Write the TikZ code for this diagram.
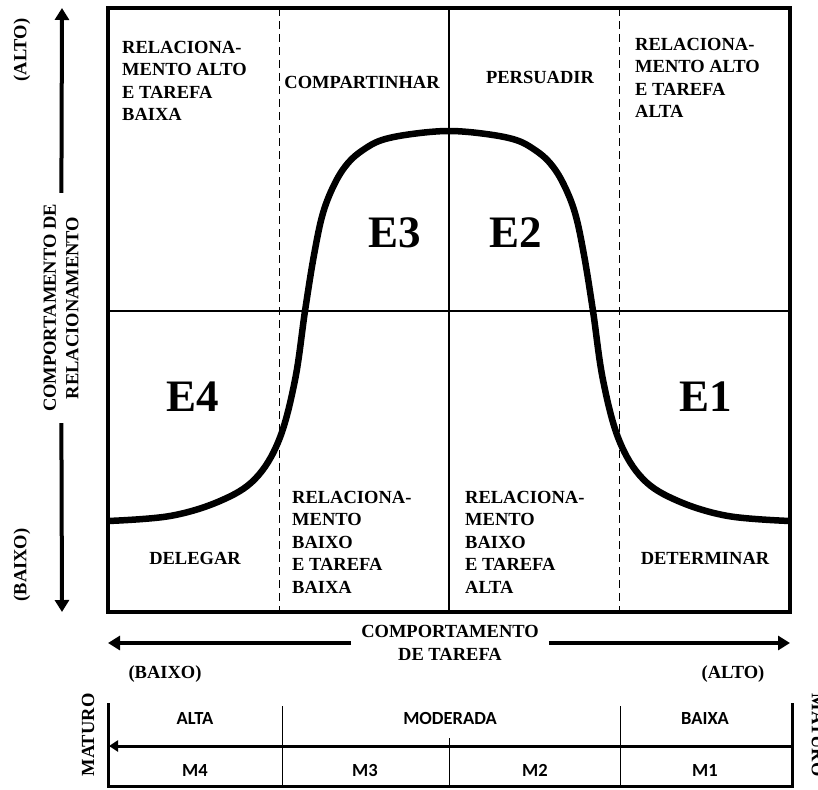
\documentclass[tikz,border=0pt]{standalone}
\usepackage{fontspec}
\setmainfont{Liberation Serif}
\newfontfamily\calfont{Carlito}
\usetikzlibrary{arrows.meta}

\begin{document}
\begin{tikzpicture}[x=1pt,y=-1pt,
  font=\bfseries\fontsize{18.5}{22.5}\selectfont,
  blk/.style={align=left,anchor=north west,inner sep=0pt},
  big/.style={font=\bfseries\fontsize{45}{45}\selectfont},
  axarr/.style={line width=4pt,-{Triangle[length=12pt,width=14pt]}},
  tab/.style={font=\calfont\bfseries\fontsize{18.5}{18.5}\selectfont}]

  \useasboundingbox (0,0) rectangle (818,789);

  \draw[line width=3.5pt] (108,8) rectangle (790,612);
  \draw[line width=2.5pt] (108,311) -- (790,311);
  \draw[line width=2.5pt] (449,8) -- (449,612);
  \foreach \x in {279,619}
    \draw[line width=.8pt,dash pattern=on 8pt off 5pt] (\x,8) -- (\x,612);

  \draw[line width=6.5pt] plot[smooth,tension=.6] coordinates {
    (108,521) (170,516) (220,501) (255,479) (279,440) (295,380) (305,311)
    (314,255) (323,213) (335,183) (348,163) (363,150) (382,140) (412,134)
    (449,131) (486,134) (516,140) (535,150) (550,163) (563,183) (575,213)
    (584,255) (593,311) (603,380) (619,440) (643,479) (678,501) (728,516)
    (790,521)};

  \node[blk] (rat) at (122,41) {RELACIONA-\\MENTO ALTO\\E TAREFA\\BAIXA};
  \node (comp) at (362,82) {COMPARTINHAR};
  \node (pers) at (540,77) {PERSUADIR};
  \node[blk] (rata) at (635,38) {RELACIONA-\\MENTO ALTO\\E TAREFA\\ALTA};
  \node[blk] (rbtb) at (292,491) {RELACIONA-\\MENTO\\BAIXO\\E TAREFA\\BAIXA};
  \node[blk] (rbta) at (465,491) {RELACIONA-\\MENTO\\BAIXO\\E TAREFA\\ALTA};
  \node (deleg) at (195,558) {DELEGAR};
  \node (deter) at (705,558) {DETERMINAR};

  \node[big] (e3) at (395,233) {E3};
  \node[big] (e2) at (516,233) {E2};
  \node[big] (e4) at (193,397) {E4};
  \node[big] (e1) at (706,397) {E1};

  % eixo vertical
  \coordinate (vtop) at (62,8);
  \coordinate (vbot) at (62,612);
  \node[rotate=90,align=center,inner xsep=11pt] (rel) at (61,308)
    {COMPORTAMENTO DE\\RELACIONAMENTO};
  \draw[axarr] (rel) -- (vtop);
  \draw[axarr] (rel) -- (vbot);
  \node[rotate=90] (valto) at (22,50) {(ALTO)};
  \node[rotate=90] (vbaixo) at (22,565) {(BAIXO)};

  % eixo horizontal
  \coordinate (hleft) at (108,643);
  \coordinate (hright) at (790,643);
  \node[align=center,inner xsep=10pt] (tar) at (450,643) {COMPORTAMENTO\\DE TAREFA};
  \draw[axarr] (tar) -- (hleft);
  \draw[axarr] (tar) -- (hright);
  \node (hbaixo) at (165,674) {(BAIXO)};
  \node (halto) at (733,674) {(ALTO)};

  % maturidade
  \draw[line width=3pt] (108,703) -- (108,786) -- (792,786) -- (792,703);
  \foreach \x in {282,620}
    \draw[line width=1pt] (\x,706) -- (\x,786);
  \draw[line width=1pt] (449,738) -- (449,786);
  \coordinate (mright) at (792,746);
  \coordinate (mleft) at (109,746);
  \draw[line width=3pt,-{Triangle[length=9pt,width=11pt]}] (mright) -- (mleft);

  \begin{scope}[tab]
    \node (alta) at (195,718) {ALTA};
    \node (mod) at (450,718) {MODERADA};
    \node (baixa) at (705,718) {BAIXA};
    \foreach \x/\m in {195/4,365/3,535/2,705/1}
      \node (m\m) at (\x,770) {M\m};
  \end{scope}

  \node[rotate=90] (matl) at (88,735) {MATURO};
  \node[rotate=-90] (matr) at (818,735) {MATURO};
\end{tikzpicture}
\end{document}
